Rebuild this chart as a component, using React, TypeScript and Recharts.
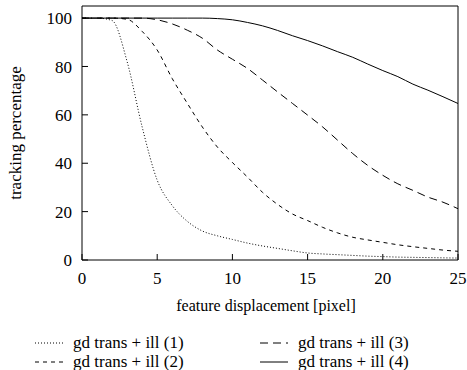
import React from 'react';
import { LineChart, Line, XAxis, YAxis, Label } from 'recharts';

const xValues = [0, 1, 2, 3, 4, 5, 6, 7, 8, 9, 10, 11, 12, 13, 14, 15, 16, 17, 18, 19, 20, 21, 22, 23, 24, 25];
const ill1 = [100, 100, 99, 82, 55, 33, 22.5, 16, 12, 10, 8.5, 7, 5.8, 4.8, 3.8, 2.9, 2.5, 2.2, 1.9, 1.6, 1.4, 1.2, 1.1, 1, 0.9, 0.8];
const ill2 = [100, 100, 100, 99.5, 94.5, 86.8, 75, 64.8, 55, 46.7, 40.3, 34.3, 28, 23, 19, 16.3, 13.5, 11.2, 9.4, 8.3, 7.3, 6.3, 5.5, 4.8, 4.1, 3.6];
const ill3 = [100, 100, 100, 100, 100, 99.3, 97.6, 95, 91.7, 86.8, 83, 79.2, 74.4, 69.5, 64.7, 59.9, 55, 49.5, 44, 39.1, 35, 31.5, 28.8, 26, 23.9, 21.2];
const ill4 = [100, 100, 100, 100, 100, 100, 100, 100, 100, 99.8, 99.3, 98.2, 96.8, 94.9, 92.7, 90.7, 88.5, 86.1, 83.8, 81, 78.3, 75.8, 72.7, 70.2, 67.5, 64.7];
const xTicks = [0, 5, 10, 15, 20, 25];
const yTicks = [0, 20, 40, 60, 80, 100];

const series = [
  { key: 'ill1', name: 'gd trans + ill (1)', dash: '1 2' },
  { key: 'ill2', name: 'gd trans + ill (2)', dash: '4 4' },
  { key: 'ill3', name: 'gd trans + ill (3)', dash: '8 5' },
  { key: 'ill4', name: 'gd trans + ill (4)', dash: undefined },
];

const data = xValues.map((x, i) => ({ x, ill1: ill1[i], ill2: ill2[i], ill3: ill3[i], ill4: ill4[i] }));

const font = '"Liberation Serif", "Times New Roman", serif';
const tickStyle = { fill: '#000', fontSize: 17, fontFamily: font };

// legend slots (two columns, two rows) as in the figure
const legendSlots = [
  { left: 35, top: 333 },
  { left: 35, top: 352 },
  { left: 260, top: 333 },
  { left: 260, top: 352 },
];

const YTitle = (props: any) => {
  const vb = props.viewBox;
  const cx = 21;
  const cy = vb.y + vb.height / 2;
  return (
    <text x={cx} y={cy} transform={`rotate(-90 ${cx} ${cy})`} textAnchor="middle" fontSize={17} fontFamily={font} fill="#000">
      tracking percentage
    </text>
  );
};

const App = () => {
  return (
    <div style={{ position: 'absolute', left: 0, top: 0, width: 467, height: 370, background: '#fff', fontFamily: font }}>
      <LineChart width={467} height={370} data={data} margin={{ top: 5, right: 8, left: 0, bottom: 60 }}>
        <XAxis
          dataKey="x"
          type="number"
          domain={[0, 25]}
          ticks={xTicks}
          tickSize={-6}
          tickMargin={18}
          height={50}
          stroke="#000"
          tick={tickStyle}
        >
          <Label value="feature displacement [pixel]" position="insideBottom" offset={-1} dx={-4} fill="#000" fontSize={16} fontFamily={font} />
        </XAxis>
        <XAxis xAxisId="top" orientation="top" dataKey="x" type="number" domain={[0, 25]} ticks={xTicks} tickSize={-6} tick={false} height={1} stroke="#000" />
        <YAxis
          type="number"
          domain={[0, 105]}
          ticks={yTicks}
          tickSize={-6}
          tickMargin={16}
          width={82}
          stroke="#000"
          tick={tickStyle}
        >
          <Label content={<YTitle />} />
        </YAxis>
        <YAxis yAxisId="right" orientation="right" type="number" domain={[0, 105]} ticks={yTicks} tickSize={-6} tick={false} width={1} stroke="#000" />
        {series.map((s) => (
          <Line
            key={s.key}
            type="monotone"
            dataKey={s.key}
            name={s.name}
            stroke="#000"
            strokeWidth={1}
            strokeDasharray={s.dash}
            dot={false}
            isAnimationActive={false}
          />
        ))}
      </LineChart>
      {series.map((s, i) => (
        <div key={s.key} style={{ position: 'absolute', left: legendSlots[i].left, top: legendSlots[i].top, height: 19, display: 'flex', alignItems: 'center', fontSize: 17, whiteSpace: 'nowrap' }}>
          <svg width={38} height={19}>
            <line x1={0} y1={10} x2={28} y2={10} stroke="#000" strokeWidth={1} strokeDasharray={s.dash} />
          </svg>
          <span style={{ lineHeight: '19px' }}>{s.name}</span>
        </div>
      ))}
    </div>
  );
};

export default App;
